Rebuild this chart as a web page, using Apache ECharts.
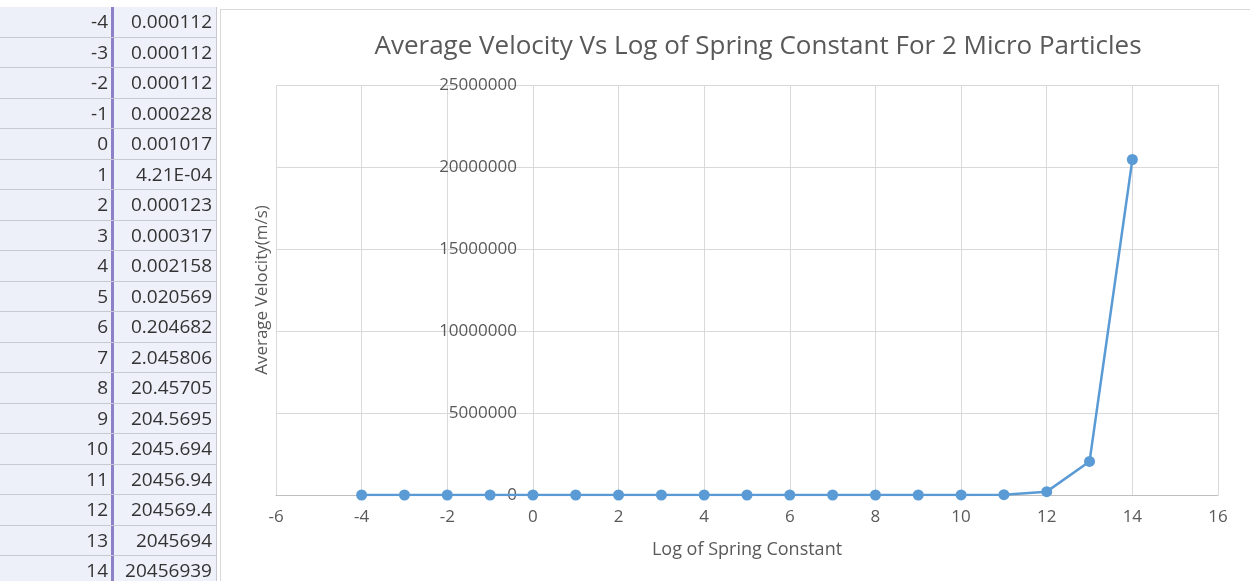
<!DOCTYPE html>
<html>
<head>
<meta charset="utf-8">
<script src="https://cdn.jsdelivr.net/npm/echarts@6/dist/echarts.min.js"></script>
<style>
  html, body { margin: 0; padding: 0; background: #ffffff; }
  #wrap { position: relative; width: 1250px; height: 581px; overflow: hidden; background: #fff; }
  #chart { position: absolute; left: 0; top: 0; width: 1250px; height: 581px; }
  #frame { position: absolute; left: 220px; top: 9px; width: 1040px; height: 600px; border: 1px solid #d9d9d9; pointer-events: none; }
  #sheet { position: absolute; left: 0; top: 7px; width: 217px; font-family: "Open Sans", sans-serif; font-size: 19px; color: #333; }
  .row { position: relative; height: 30.5px; border-bottom: 1px solid #c9c9d3; box-sizing: border-box; }
  .k { position: absolute; left: 0; top: 0; width: 111px; height: 100%; background: #eef0f9; text-align: right; padding-right: 3px; box-sizing: border-box; line-height: 29px; }
  .v { position: absolute; left: 114px; top: 0; width: 103px; height: 100%; background: #eef1fa; text-align: right; padding-right: 4px; box-sizing: border-box; line-height: 29px; border-right: 1px solid #c9c9d3; }
  #pline { position: absolute; left: 111px; top: 0; width: 3px; height: 581px; background: #8e80c6; }
</style>
</head>
<body>
<div id="wrap">
  <div id="chart"></div>
  <div id="frame"></div>
  <div id="sheet"></div>
</div>
<script>
// Data (read from the spreadsheet / chart)
const logK = [-4, -3, -2, -1, 0, 1, 2, 3, 4, 5, 6, 7, 8, 9, 10, 11, 12, 13, 14];
const velocity = [0.000112, 0.000112, 0.000112, 0.000228, 0.001017, 4.21e-4, 0.000123, 0.000317, 0.002158, 0.020569, 0.204682, 2.045806, 20.45705, 204.5695, 2045.694, 20456.94, 204569.4, 2045694, 20456939];
const velocityText = ['0.000112', '0.000112', '0.000112', '0.000228', '0.001017', '4.21E-04', '0.000123', '0.000317', '0.002158', '0.020569', '0.204682', '2.045806', '20.45705', '204.5695', '2045.694', '20456.94', '204569.4', '2045694', '20456939'];
const titleText = 'Average Velocity Vs Log of Spring Constant For 2 Micro Particles';
const xAxisName = 'Log of Spring Constant';
const yAxisName = 'Average Velocity(m/s)';

// Spreadsheet cells
const sheet = document.getElementById('sheet');
let html = '<div id="pline"></div>';
for (let i = 0; i < logK.length; i++) {
  html += '<div class="row"><div class="k">' + logK[i] + '</div><div class="v">' + velocityText[i] + '</div></div>';
}
sheet.innerHTML = html;

const chart = echarts.init(document.getElementById('chart'), null, { renderer: 'canvas' });
const font = '"Open Sans", sans-serif';
// y axis crosses the x axis at x = 0 (Excel default): shift it inward from the grid's left edge
const gridLeft = 276, gridRight = 32;
const plotW = 1250 - gridLeft - gridRight;
const xMin = -6, xMax = 16;
const yAxisShift = -plotW * (0 - xMin) / (xMax - xMin);
chart.setOption({
  animation: false,
  backgroundColor: 'transparent',
  title: {
    text: titleText,
    left: 753,
    top: 29,
    textAlign: 'center',
    textStyle: { fontFamily: font, fontSize: 26, fontWeight: 'normal', color: '#595959' }
  },
  grid: { left: gridLeft, right: gridRight, top: 85, bottom: 86, containLabel: false },
  xAxis: {
    type: 'value',
    min: xMin, max: xMax, interval: 2,
    name: xAxisName,
    nameLocation: 'middle',
    nameGap: 46,
    nameTextStyle: { fontFamily: font, fontSize: 18, color: '#595959' },
    axisLine: { onZero: false, lineStyle: { color: '#bfbfbf', width: 1 } },
    axisTick: { show: false },
    axisLabel: { fontFamily: font, fontSize: 17, color: '#595959', margin: 14 },
    splitLine: { show: true, lineStyle: { color: '#d9d9d9', width: 1 } }
  },
  yAxis: {
    type: 'value',
    position: 'left',
    offset: yAxisShift,
    min: 0, max: 25000000, interval: 5000000,
    name: yAxisName,
    nameLocation: 'middle',
    nameGap: 262,
    nameTextStyle: { fontFamily: font, fontSize: 17, color: '#595959' },
    axisLine: { show: false },
    axisTick: { show: false },
    axisLabel: { fontFamily: font, fontSize: 17, color: '#595959', margin: 16, formatter: v => String(v) },
    splitLine: { show: true, lineStyle: { color: '#d9d9d9', width: 1 } }
  },
  series: [{
    type: 'line',
    data: logK.map((x, i) => [x, velocity[i]]),
    symbol: 'circle',
    symbolSize: 11,
    showAllSymbol: true,
    lineStyle: { color: '#5b9bd5', width: 2.5 },
    itemStyle: { color: '#5b9bd5' },
    z: 5
  }]
});
</script>
</body>
</html>
